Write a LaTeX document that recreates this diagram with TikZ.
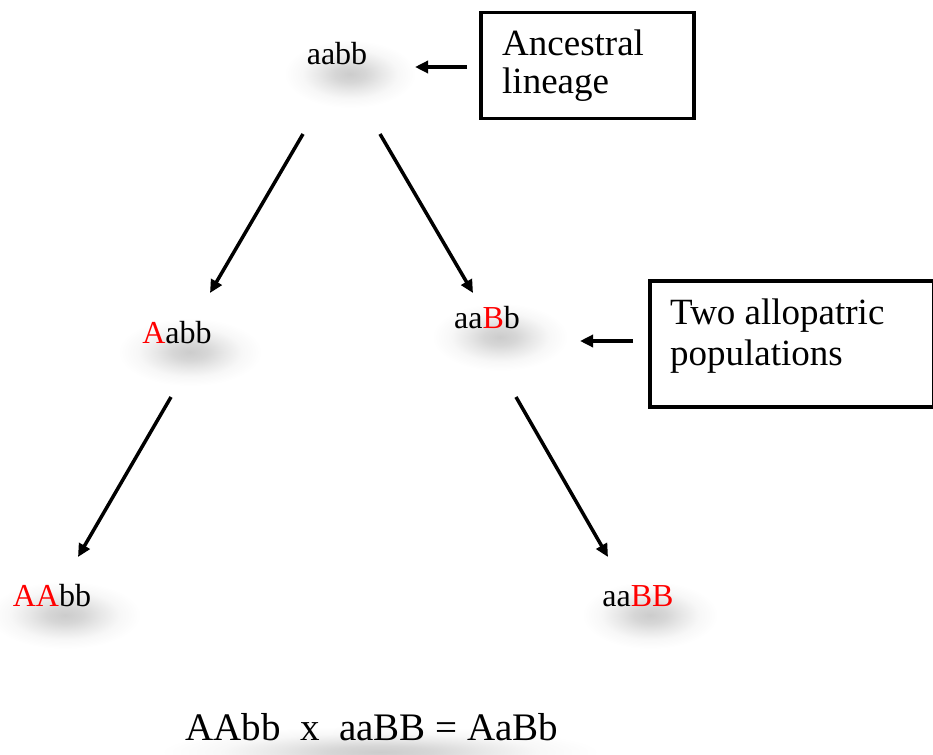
\documentclass[tikz,border=0pt]{standalone}
\usepackage{fontspec}
\setmainfont{Liberation Serif}
\usetikzlibrary{arrows.meta}
\pgfdeclareradialshading{softshadow}{\pgfpoint{0bp}{0bp}}{color(0bp)=(black!20); color(6bp)=(black!16); color(12bp)=(black!9); color(18bp)=(black!3); color(25bp)=(white); color(50bp)=(white)}
\tikzset{
  geno/.style={anchor=base, inner sep=0pt, font=\fontsize{32}{36}\selectfont},
  boxtext/.style={anchor=base west, inner sep=0pt, font=\fontsize{37}{42}\selectfont},
  labelbox/.style={draw=black, line width=3.5pt},
  arr/.style={line width=3.5pt, -{Triangle[length=13pt,width=12pt]}},
  blob/.style={shading=softshadow},
}
\begin{document}
\begin{tikzpicture}[x=1pt,y=-1pt]
\useasboundingbox (0,0) rectangle (933,754);
% soft shadows
\shade[blob] (350,74) ellipse (66 and 34);
\shade[blob] (190,352) ellipse (72 and 34);
\shade[blob] (500,337) ellipse (68 and 34);
\shade[blob] (65,615) ellipse (76 and 34);
\shade[blob] (650,615) ellipse (68 and 34);
\shade[blob] (380,752) ellipse (220 and 26);
% genotypes
\node[geno] (aabb) at (337,65) {aabb};
\node[geno] (Aabb) at (177,343) {\textcolor{red}{A}abb};
\node[geno] (aaBb) at (487,328) {aa\textcolor{red}{B}b};
\node[geno] (AAbb) at (52,606) {\textcolor{red}{AA}bb};
\node[geno] (aaBB) at (638,606) {aa\textcolor{red}{BB}};
\node[anchor=base, inner sep=0pt, font=\fontsize{39}{44}\selectfont] (cross) at (372,740) {AAbb\ \ x\ \ aaBB = AaBb};
% label boxes
\node[labelbox, minimum width=213pt, minimum height=106pt, anchor=north west] (anc) at (479,11) {};
\node[boxtext] (anct1) at (502,56) {Ancestral};
\node[boxtext] (anct2) at (502,94) {lineage};
\node[labelbox, minimum width=284pt, minimum height=126pt, anchor=north west] (allo) at (648,279) {};
\node[boxtext] (allot1) at (670,324) {Two allopatric};
\node[boxtext] (allot2) at (670,365) {populations};
% connector ends
\coordinate (p1s) at (467,67);  \coordinate (p1e) at (415,67);
\coordinate (p2s) at (633,341); \coordinate (p2e) at (580,341);
\coordinate (a1s) at (303,134); \coordinate (a1e) at (210,293);
\coordinate (a2s) at (380,134); \coordinate (a2e) at (473,293);
\coordinate (a3s) at (171,397); \coordinate (a3e) at (78,557);
\coordinate (a4s) at (516,397); \coordinate (a4e) at (608,557);
\draw[arr] (p1s) -- (p1e);
\draw[arr] (p2s) -- (p2e);
\draw[arr] (a1s) -- (a1e);
\draw[arr] (a2s) -- (a2e);
\draw[arr] (a3s) -- (a3e);
\draw[arr] (a4s) -- (a4e);
\end{tikzpicture}
\end{document}
